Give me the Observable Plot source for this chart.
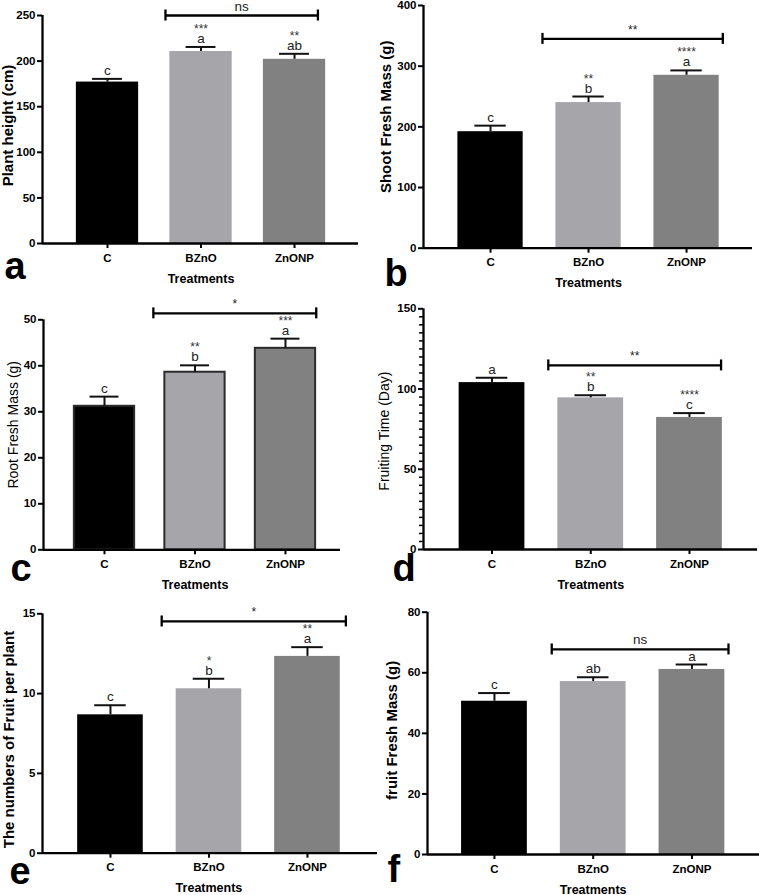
<!DOCTYPE html>
<html><head><meta charset="utf-8">
<script src="https://cdn.jsdelivr.net/npm/d3@7"></script>
<script src="https://cdn.jsdelivr.net/npm/@observablehq/plot@0.6"></script>
<style>
html,body{margin:0;padding:0;background:#fff;}
#wrap{position:relative;width:759px;height:895px;overflow:hidden;background:#fff;}
.panel{position:absolute;}
.panel svg{overflow:visible;background:transparent;font-family:"Liberation Sans",Arial,sans-serif;max-width:none;}
g[aria-label="x-axis tick label"] text, g[aria-label="y-axis tick label"] text{font-weight:bold;}
</style></head><body><div id="wrap"></div>
<script>
const treatments = ["C", "BZnO", "ZnONP"];
const barColors = ["#000000", "#a5a5aa", "#818181"];

// a: Plant height
const heightMean = [177, 210.5, 202];
const heightErr = [3.5, 5, 6];
const heightLetters = ["c", "a", "ab"];
const heightStars = ["", "***", "**"];
const heightTicks = [0, 50, 100, 150, 200, 250];
// b: Shoot fresh mass
const shootMean = [192, 240, 285];
const shootErr = [10, 10, 8];
const shootLetters = ["c", "b", "a"];
const shootStars = ["", "**", "****"];
const shootTicks = [0, 100, 200, 300, 400];
// c: Root fresh mass
const rootMean = [31.2, 38.6, 43.8];
const rootErr = [2.1, 1.5, 2.1];
const rootLetters = ["c", "b", "a"];
const rootStars = ["", "**", "***"];
const rootTicks = [0, 10, 20, 30, 40, 50];
// d: Fruiting time
const fruitingMean = [104, 94.5, 82.3];
const fruitingErr = [3, 1.7, 2.7];
const fruitingLetters = ["a", "b", "c"];
const fruitingStars = ["", "**", "****"];
const fruitingTicks = [0, 50, 100, 150];
const fruitingMinorTicks = [5, 10, 15, 20, 25, 30, 35, 40, 45, 55, 60, 65, 70, 75, 80, 85, 90, 95, 105, 110, 115, 120, 125, 130, 135, 140, 145];
// e: Number of fruit
const fruitNumMean = [8.67, 10.3, 12.33];
const fruitNumErr = [0.6, 0.63, 0.58];
const fruitNumLetters = ["c", "b", "a"];
const fruitNumStars = ["", "*", "**"];
const fruitNumTicks = [0, 5, 10, 15];
// f: Fruit fresh mass
const fruitMassMean = [50.6, 57.1, 61.1];
const fruitMassErr = [2.7, 1.4, 1.6];
const fruitMassLetters = ["c", "ab", "a"];
const fruitMassStars = ["", "", ""];
const fruitMassTicks = [0, 20, 40, 60, 80];

// bracket comparisons (BZnO vs ZnONP)
const bracketValues = [250, 345, 51.4, 114.7, 14.52, 67.7];
const bracketLabels = ["ns", "**", "*", "**", "*", "ns"];
const yLabels = ["Plant height (cm)", "Shoot Fresh Mass (g)", "Root Fresh Mass (g)", "Fruiting Time (Day)", "The numbers of Fruit per plant", "fruit Fresh Mass (g)"];
const panelLetters = ["a", "b", "c", "d", "e", "f"];

const FONT = '"Liberation Sans", Arial, sans-serif';
const AX = "#000";

function panel(cfg) {
  const rows = treatments.map((t, i) => ({
    i, t, mean: cfg.mean[i], top: cfg.mean[i] + cfg.err[i],
    letter: cfg.letters[i], stars: cfg.stars[i], color: barColors[i]
  }));
  const plotH = cfg.h - cfg.mt - cfg.mb;
  const unit = cfg.ymax / plotH;
  const hw = 0.333, cap = 0.16;
  const marks = [
    Plot.rectY(rows, {x1: d => d.i - hw, x2: d => d.i + hw, y1: 0, y2: "mean", fill: "color",
      stroke: cfg.outline ? "#2b2b2b" : "none", strokeWidth: cfg.outline ? 2 : 0}),
    Plot.ruleX(rows, {x: "i", y1: "mean", y2: "top", stroke: "#111", strokeWidth: 2}),
    Plot.ruleY(rows, {x1: d => d.i - cap, x2: d => d.i + cap, y: "top", stroke: "#111", strokeWidth: 2}),
    Plot.text(rows, {x: "i", y: "top", text: "letter", dy: -4, lineAnchor: "bottom", fontSize: 13.5, fill: "#222", fontFamily: FONT}),
    Plot.text(rows, {x: "i", y: "top", text: "stars", dy: -14, lineAnchor: "bottom", fontSize: 12, fill: "#333", fontFamily: FONT}),
    Plot.ruleY([cfg.bracket], {x1: cfg.bx[0], x2: cfg.bx[1], y: d => d, stroke: AX, strokeWidth: 2.3}),
    Plot.ruleX(cfg.bx, {x: d => d, y1: cfg.bracket - 5.5 * unit, y2: cfg.bracket + 5.5 * unit, stroke: AX, strokeWidth: 2.3}),
    Plot.text([cfg.sig], {x: (cfg.bx[0] + cfg.bx[1]) / 2, y: cfg.bracket, text: d => d, dy: -5, lineAnchor: "bottom",
      fontSize: cfg.sig === "ns" ? 13.5 : 12, fill: "#222", fontFamily: FONT}),
    Plot.ruleX([cfg.xd[0]], {x: d => d, y1: 0, y2: cfg.ymax, stroke: AX, strokeWidth: 2.3}),
    Plot.ruleY([0], {x1: cfg.xd[0], x2: cfg.xd[1], y: d => d, stroke: AX, strokeWidth: 2.3}),
    Plot.axisY({ticks: cfg.ticks, tickSize: 5, tickPadding: 2, fontSize: 11.5, strokeWidth: 2, stroke: AX, label: null, fontFamily: FONT}),
    Plot.axisX({ticks: [0, 1, 2], tickFormat: i => treatments[i], tickSize: 5, tickPadding: 5, fontSize: 11.5, strokeWidth: 2, stroke: AX, label: null, fontFamily: FONT}),
    Plot.text(["Treatments"], {x: 1, y: 0, text: d => d, dy: 35, lineAnchor: "middle", fontWeight: "bold", fontSize: 12.5, fontFamily: FONT}),
    Plot.text([cfg.ylabel], {frameAnchor: "left", text: d => d, dx: cfg.ylx, dy: cfg.yly, rotate: -90, textAnchor: "middle", lineAnchor: "middle",
      fontWeight: cfg.ybold ? "bold" : "normal", fontSize: cfg.ybold ? 15 : 14, fontFamily: FONT}),
    Plot.text([cfg.letter], {frameAnchor: "bottom-left", text: d => d, dx: cfg.lx, dy: cfg.ly, textAnchor: "start", lineAnchor: "bottom",
      fontSize: 38, fontWeight: "bold", fontFamily: FONT})
  ];
  if (cfg.minor) {
    marks.push(Plot.ruleY(cfg.minor, {y: d => d, x1: cfg.xd[0], x2: cfg.xd[0], insetLeft: -4, stroke: AX, strokeWidth: 1.5}));
  }
  return Plot.plot({
    width: cfg.w, height: cfg.h,
    marginLeft: cfg.ml, marginRight: cfg.mr, marginTop: cfg.mt, marginBottom: cfg.mb,
    x: {type: "linear", domain: cfg.xd},
    y: {type: "linear", domain: [0, cfg.ymax]},
    style: {background: "transparent", overflow: "visible", fontFamily: FONT},
    marks
  });
}

const panels = [
  {left: 0, top: 0, w: 380, h: 290, ml: 42, mr: 22, mt: 15, mb: 47, xd: [-0.695, 2.684], ymax: 250,
   mean: heightMean, err: heightErr, letters: heightLetters, stars: heightStars, ticks: heightTicks,
   bracket: bracketValues[0], sig: bracketLabels[0], bx: [0.62, 2.25], ylabel: yLabels[0], ybold: true, ylx: -34, yly: -4,
   letter: panelLetters[0], lx: -38, ly: 35},
  {left: 380, top: 0, w: 379, h: 290, ml: 43, mr: 7, mt: 5, mb: 42.3, xd: [-0.684, 2.673], ymax: 400,
   mean: shootMean, err: shootErr, letters: shootLetters, stars: shootStars, ticks: shootTicks,
   bracket: bracketValues[1], sig: bracketLabels[1], bx: [0.53, 2.37], ylabel: yLabels[1], ybold: true, ylx: -37, yly: -10,
   letter: panelLetters[1], lx: -39, ly: 38},
  {left: 0, top: 290, w: 380, h: 300, ml: 43, mr: 40, mt: 29.3, mb: 40.7, xd: [-0.674, 2.608], ymax: 50,
   mean: rootMean, err: rootErr, letters: rootLetters, stars: rootStars, ticks: rootTicks, outline: true,
   bracket: bracketValues[2], sig: bracketLabels[2], bx: [0.54, 2.34], ylabel: yLabels[2], ybold: false, ylx: -30, yly: -10,
   letter: panelLetters[2], lx: -33, ly: 31},
  {left: 380, top: 290, w: 379, h: 300, ml: 43, mr: 2, mt: 18.3, mb: 41, xd: [-0.694, 2.689], ymax: 150,
   mean: fruitingMean, err: fruitingErr, letters: fruitingLetters, stars: fruitingStars, ticks: fruitingTicks,
   minor: fruitingMinorTicks,
   bracket: bracketValues[3], sig: bracketLabels[3], bx: [0.57, 2.32], ylabel: yLabels[3], ybold: false, ylx: -39, yly: 2,
   letter: panelLetters[3], lx: -31, ly: 31},
  {left: 0, top: 590, w: 380, h: 305, ml: 42, mr: 3, mt: 23.3, mb: 42.3, xd: [-0.690, 2.711], ymax: 15,
   mean: fruitNumMean, err: fruitNumErr, letters: fruitNumLetters, stars: fruitNumStars, ticks: fruitNumTicks,
   bracket: bracketValues[4], sig: bracketLabels[4], bx: [0.52, 2.39], ylabel: yLabels[4], ybold: true, ylx: -33, yly: 6,
   letter: panelLetters[4], lx: -33, ly: 31},
  {left: 380, top: 590, w: 379, h: 305, ml: 47, mr: 0, mt: 21.7, mb: 41, xd: [-0.678, 2.684], ymax: 80,
   mean: fruitMassMean, err: fruitMassErr, letters: fruitMassLetters, stars: fruitMassStars, ticks: fruitMassTicks,
   bracket: bracketValues[5], sig: bracketLabels[5], bx: [0.58, 2.37], ylabel: yLabels[5], ybold: true, ylx: -35, yly: -3,
   letter: panelLetters[5], lx: -40, ly: 27}
];

const wrap = document.getElementById("wrap");
for (const cfg of panels) {
  const div = document.createElement("div");
  div.className = "panel";
  div.style.left = cfg.left + "px";
  div.style.top = cfg.top + "px";
  div.style.width = cfg.w + "px";
  div.style.height = cfg.h + "px";
  div.appendChild(panel(cfg));
  wrap.appendChild(div);
}
</script>
</body></html>
